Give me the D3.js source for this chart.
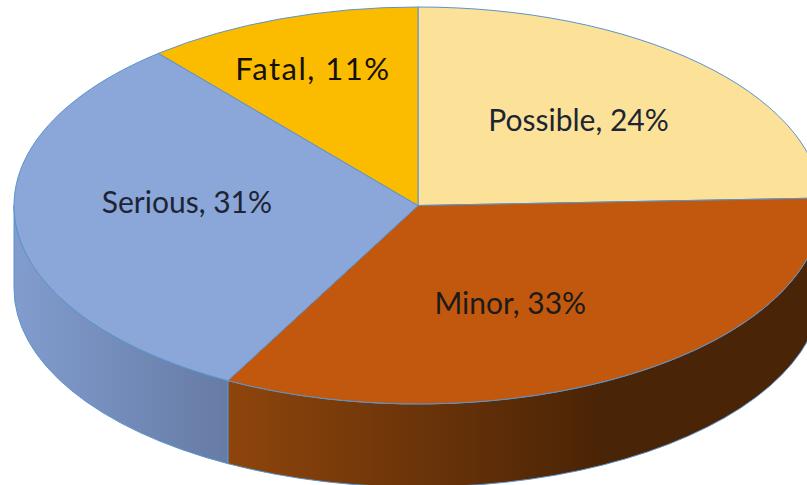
<!DOCTYPE html>
<html>
<head>
<meta charset="utf-8">
<script src="https://cdn.jsdelivr.net/npm/d3@7"></script>
<style>
	html, body { margin: 0; padding: 0; background: #fff; overflow: hidden; }
	svg { display: block; }
	text { font-family: "Lato", sans-serif; text-anchor: middle; }
</style>
</head>
<body>
<div id="chart"></div>
<script>
// chart data (labels show the rounded value)
var categories = ["Possible", "Minor", "Serious", "Fatal"];
var percents = [24.4, 33.4, 31.1, 11.1];
var topColors = ["#fbe298", "#c1580e", "#8ba6d8", "#fbbc00"];

var width = 807,
	height = 485;

// the tilted pie is a circle squashed into an ellipse
var cx = 418, cy = 205.5,
	rx = 404, ry = 198.5,
	depth = 83;

// labels sit on a common radius, then get pushed by hand like the original
var labelRadius = 0.58;
var labelNudge = [[-2, -2], [-32, 0], [2, -15], [-25, -28]];
var labelSize = [30, 30, 30, 31];
var labelSpacing = [0, 0, 0, 1.5];
var labelColors = ["#1d2433", "#1d1a1a", "#1d2433", "#14110a"];

var pie = d3.pie().sort(null)(percents);

var arc = d3.arc().innerRadius(0).outerRadius(rx);

var svg = d3.select("#chart").append("svg")
	.attr("width", width)
	.attr("height", height);

var defs = svg.append("defs");

// side wall shading runs left to right, like the original 3D bevel
function wallGradient(id, x1, x2, from, to) {
	var g = defs.append("linearGradient")
		.attr("id", id)
		.attr("gradientUnits", "userSpaceOnUse")
		.attr("x1", x1).attr("x2", x2)
		.attr("y1", 0).attr("y2", 0);
	g.append("stop").attr("offset", 0).attr("stop-color", from);
	g.append("stop").attr("offset", 1).attr("stop-color", to);
}
wallGradient("wall-1", 229, 600, "#8e450c", "#4a2406");
wallGradient("wall-2", 15, 229, "#819cce", "#667ba4");

function px(a) { return cx + rx * Math.sin(a); }
function py(a) { return cy - ry * Math.cos(a); }

// only the front half of the rim can be seen
function wallPath(d) {
	var a0 = Math.max(d.startAngle, Math.PI / 2),
		a1 = Math.min(d.endAngle, 3 * Math.PI / 2);
	if (a1 <= a0) return null;
	return "M" + px(a0) + "," + py(a0) +
		"A" + rx + "," + ry + " 0 0 1 " + px(a1) + "," + py(a1) +
		"L" + px(a1) + "," + (py(a1) + depth) +
		"A" + rx + "," + ry + " 0 0 0 " + px(a0) + "," + (py(a0) + depth) +
		"Z";
}

svg.selectAll("path.wall")
	.data(pie.filter(wallPath))
  .enter().append("path")
	.attr("class", "wall")
	.attr("d", wallPath)
	.attr("fill", function(d) { return "url(#wall-" + d.index + ")"; })
	.attr("stroke", "#5b93cc")
	.attr("stroke-width", 1);

svg.append("g")
	.attr("transform", "translate(" + cx + "," + cy + ") scale(1," + (ry / rx) + ")")
  .selectAll("path")
	.data(pie)
  .enter().append("path")
	.attr("d", arc)
	.attr("fill", function(d) { return topColors[d.index]; })
	.attr("stroke", "#5b93cc")
	.attr("stroke-width", 1)
	.attr("vector-effect", "non-scaling-stroke");

svg.selectAll("text")
	.data(pie)
  .enter().append("text")
	.attr("x", function(d) {
		var mid = (d.startAngle + d.endAngle) / 2;
		return cx + rx * labelRadius * Math.sin(mid) + labelNudge[d.index][0];
	})
	.attr("y", function(d) {
		var mid = (d.startAngle + d.endAngle) / 2;
		return cy - ry * labelRadius * Math.cos(mid) + labelNudge[d.index][1];
	})
	.attr("dy", "0.36em")
	.attr("fill", function(d) { return labelColors[d.index]; })
	.style("font-size", function(d) { return labelSize[d.index] + "px"; })
	.style("letter-spacing", function(d) { return labelSpacing[d.index] + "px"; })
	.text(function(d) { return categories[d.index] + ", " + Math.round(d.data) + "%"; });
</script>
</body>
</html>
